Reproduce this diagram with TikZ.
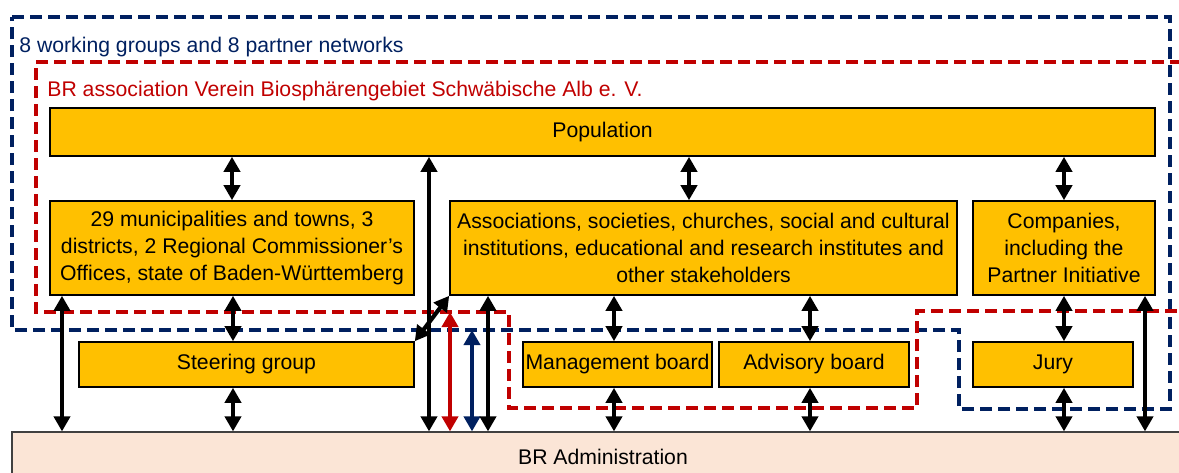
\documentclass[tikz,border=0pt]{standalone}
\usepackage{fontspec}
\setmainfont{Liberation Sans}
\usetikzlibrary{arrows.meta}
\definecolor{boxfill}{HTML}{FFC000}
\definecolor{adminfill}{HTML}{FBE5D6}
\definecolor{navyline}{HTML}{002060}
\definecolor{redline}{HTML}{C00000}
\begin{document}
\begin{tikzpicture}[x=0.5pt,y=-0.5pt,
  txt/.style={font=\fontsize{10.6}{13.5}\selectfont},
  box/.style={txt, draw=black, line width=0.8pt, fill=boxfill, inner sep=0pt, align=center},
  adminbox/.style={txt, draw=black!75, line width=0.6pt, fill=adminfill, inner sep=0pt},
  arr/.style={line width=2.1pt, {Triangle[width=8pt,length=7.5pt]}-{Triangle[width=8pt,length=7.5pt]}},
  frame/.style={line width=1.6pt, dash pattern=on 6pt off 3pt},
  lbl/.style={txt, anchor=west, inner sep=0pt}]
\useasboundingbox (0,0) rectangle (1179,472);

% dashed outlines of the working groups and of the association
\draw[frame, navyline] (12,17) -- (1170,17) -- (1170,409) -- (959,409) -- (959,330) -- (12,330) -- cycle;
\draw[frame, redline] (1200,62) -- (36,62) -- (36,312) -- (509,312) -- (509,408) -- (917,408) -- (917,311) -- (1200,311);
\node[lbl, text=navyline] (wglabel) at (19,47) {8 working groups and 8 partner networks};
\node[lbl, text=redline] (assoclabel) at (47,91) {BR association Verein Biosphärengebiet Schwäbische Alb e. V.};

% bodies
\node[box, minimum width=552.5pt, minimum height=24pt] (pop) at (602.5,132) {Population};
\node[box, minimum width=182pt, minimum height=47pt] (mun) at (232,248)
  {29 municipalities and towns, 3\\districts, 2 Regional Commissioner’s\\Offices, state of Baden-Württemberg};
\node[box, minimum width=253.5pt, minimum height=47pt] (soc) at (703.5,248)
  {Associations, societies, churches, social and cultural\\institutions, educational and research institutes and\\other stakeholders};
\node[box, minimum width=91pt, minimum height=47pt] (comp) at (1064,248)
  {Companies,\\including the\\Partner Initiative};
\node[box, minimum width=167.5pt, minimum height=22.5pt] (steer) at (246.5,364.5) {Steering group};
\node[box, minimum width=94.5pt, minimum height=22.5pt] (mgmt) at (617.5,364.5) {Management board};
\node[box, minimum width=95pt, minimum height=22.5pt] (adv) at (814,364.5) {Advisory board};
\node[box, minimum width=80pt, minimum height=22.5pt] (jury) at (1053,364.5) {Jury};
\node[adminbox, minimum width=591pt, minimum height=25pt] (adm) at (603,457) {BR Administration};

% points on the dashed outlines
\coordinate (redpt) at (450,312);
\coordinate (navypt) at (472,330);

% connections
\draw[arr] (pop.south -| 232,0) -- (mun.north -| 232,0);
\draw[arr] (pop.south -| 689,0) -- (soc.north -| 689,0);
\draw[arr] (pop.south -| 1064,0) -- (comp.north -| 1064,0);
\draw[arr] (mun.south -| 233,0) -- (steer.north -| 233,0);
\draw[arr] (steer.south -| 233,0) -- (adm.north -| 233,0);
\draw[arr] (mun.south -| 62,0) -- (adm.north -| 62,0);
\draw[arr] (pop.south -| 429,0) -- (adm.north -| 429,0);
\draw[arr] (steer.north east) -- (soc.south west);
\draw[arr, redline] (redpt) -- (adm.north -| redpt);
\draw[arr, navyline] (navypt) -- (adm.north -| navypt);
\draw[arr] (soc.south -| 488,0) -- (adm.north -| 488,0);
\draw[arr] (soc.south -| 614,0) -- (mgmt.north -| 614,0);
\draw[arr] (mgmt.south -| 614,0) -- (adm.north -| 614,0);
\draw[arr] (soc.south -| 810,0) -- (adv.north -| 810,0);
\draw[arr] (adv.south -| 810,0) -- (adm.north -| 810,0);
\draw[arr] (comp.south -| 1064,0) -- (jury.north -| 1064,0);
\draw[arr] (jury.south -| 1064,0) -- (adm.north -| 1064,0);
\draw[arr] (comp.south -| 1145,0) -- (adm.north -| 1145,0);
\end{tikzpicture}
\end{document}
